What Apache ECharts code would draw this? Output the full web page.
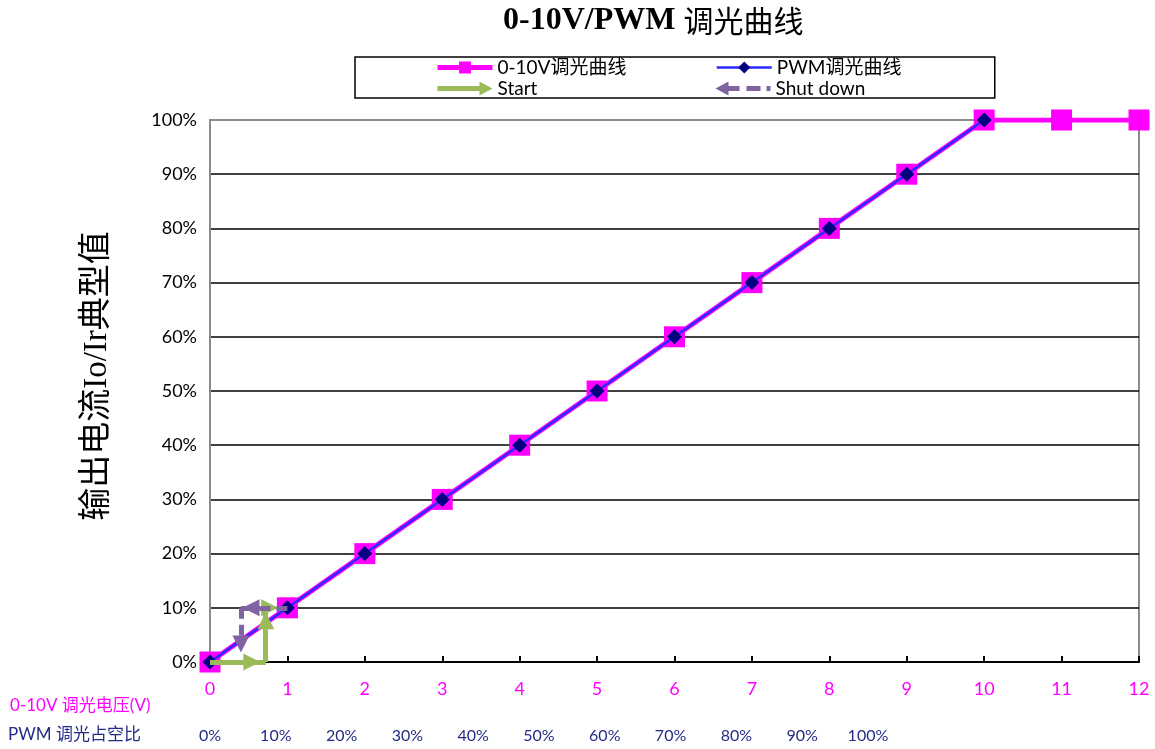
<!DOCTYPE html>
<html>
<head>
<meta charset="utf-8">
<script src="https://cdn.jsdelivr.net/npm/echarts@6/dist/echarts.min.js"></script>
<style>html,body{margin:0;padding:0;background:#fff}#c{width:1155px;height:749px}</style>
</head>
<body>
<div id="c"></div>
<script>
// ---- data ----
const voltX = [0,1,2,3,4,5,6,7,8,9,10,11,12];
const voltY = [0,10,20,30,40,50,60,70,80,90,100,100,100];
const pwmX = [0,1,2,3,4,5,6,7,8,9,10];
const pwmY = [0,10,20,30,40,50,60,70,80,90,100];
// arrow paths: each point pair is a segment; arrowed segments listed separately
const startPath = [[0,0],[0.54,0],[0.72,0],[0.72,7.6],[0.72,10],[0.77,10]];
const startPlain = [1, 3];
const shutPath = [[1,10],[0.53,10],[0.4,10],[0.4,3.3]];
const shutPlain = [1];
const yTicks = [0,10,20,30,40,50,60,70,80,90,100];
const pwmLabels = ['0%','10%','20%','30%','40%','50%','60%','70%','80%','90%','100%'];
const seriesNames = ['0-10V调光曲线','PWM调光曲线','Start','Shut down'];
const yName = '输出电流Io/Ir典型值';

const FONT = 'Lato, "Noto Sans CJK SC", sans-serif';
const MAG = '#FF00FF', NAVY = '#000080', BLUE = '#2a2aff', GREEN = '#9BBB59', PURPLE = '#8064A2';

function zip(xs, ys){ return xs.map((x,i)=>[x, ys[i]]); }
function segs(path, plain){
  const out = [];
  for (let i=0;i<path.length-1;i++){
    const noArrow = plain.includes(i);
    out.push([{coord: path[i], symbol: 'none'}, {coord: path[i+1], symbol: noArrow ? 'none' : 'triangle', symbolSize: 17}]);
  }
  return out;
}

const chart = echarts.init(document.getElementById('c'));
chart.setOption({
  animation: false,
  title: {
    text: '{a|0-10V/PWM }{b|调光曲线}', left: 498, top: 0,
    textStyle: {
      rich: {
        a: {fontFamily: '"Liberation Serif", serif', fontWeight: 'bold', fontSize: 32, color: '#000'},
        b: {fontFamily: '"Noto Sans CJK SC", sans-serif', fontWeight: 'normal', fontSize: 30, color: '#000'}
      }
    }
  },
  legend: {
    left: 355, top: 57, width: 560,
    padding: [1, 2, 0, 80],
    borderColor: '#000', borderWidth: 1.5,
    itemWidth: 55, itemHeight: 15, itemGap: 2,
    textStyle: {fontFamily: FONT, fontSize: 19, color: '#000', width: 216, lineHeight: 17},
    data: [
      {name: seriesNames[0], lineStyle: {width: 5}},
      {name: seriesNames[1], lineStyle: {width: 2.5}},
      {name: seriesNames[2], icon: 'path://M0,4.5L42,4.5L42,0L55,7L42,14L42,9.5L0,9.5Z', itemStyle: {color: GREEN}},
      {name: seriesNames[3], icon: 'path://M0,7L13,0L13,4.5L24,4.5L24,9.5L13,9.5L13,14Z M31,4.5L45,4.5L45,9.5L31,9.5Z M51,4.5L55,4.5L55,9.5L51,9.5Z', itemStyle: {color: PURPLE}}
    ]
  },
  grid: {left: 210, right: 16, top: 120, bottom: 87, show: true, borderColor: '#8c8c8c', borderWidth: 2},
  xAxis: [{
    type: 'value', min: 0, max: 12, interval: 1,
    axisLine: {lineStyle: {color: '#000', width: 2}},
    axisTick: {inside: true, length: 6, lineStyle: {color: '#000', width: 2}},
    splitLine: {show: false},
    axisLabel: {color: MAG, fontSize: 18, fontFamily: FONT, margin: 18}
  }, {
    type: 'value', min: 0, max: 141.2, interval: 10, position: 'bottom', offset: 60,
    axisLine: {show: false}, axisTick: {show: false}, splitLine: {show: false},
    axisLabel: {color: '#232C84', fontSize: 16, fontFamily: FONT, margin: 6, showMaxLabel: false,
      formatter: v => { const i = Math.round(v/10); return (i < pwmLabels.length) ? pwmLabels[i] : ''; }}
  }],
  yAxis: {
    type: 'value', min: 0, max: 100, interval: 10,
    axisLine: {show: true, lineStyle: {color: '#8c8c8c', width: 2}},
    axisTick: {show: false},
    axisLabel: {color: '#000', fontSize: 18, fontFamily: FONT, margin: 13, formatter: v => v + '%'},
    splitLine: {lineStyle: {color: yTicks.map((t,i)=> i === yTicks.length-1 ? '#8c8c8c' : '#000'), width: 1.5}}
  },
  series: [
    {
      name: seriesNames[0], type: 'line', data: zip(voltX, voltY),
      symbol: 'rect', symbolSize: 21, color: MAG,
      lineStyle: {color: MAG, width: 5}, itemStyle: {color: MAG}, z: 2
    },
    {
      name: seriesNames[1], type: 'line', data: zip(pwmX, pwmY),
      symbol: 'diamond', symbolSize: 15, color: BLUE,
      lineStyle: {color: BLUE, width: 2.5}, itemStyle: {color: NAVY}, z: 3
    },
    {
      name: seriesNames[2], type: 'line', data: [], color: GREEN, z: 4,
      markLine: {
        silent: true, symbol: ['none', 'triangle'], symbolSize: 17,
        label: {show: false},
        lineStyle: {color: GREEN, width: 5, type: 'solid'},
        data: segs(startPath, startPlain)
      }
    },
    {
      name: seriesNames[3], type: 'line', data: [], color: PURPLE, z: 5,
      markLine: {
        silent: true, symbol: ['none', 'triangle'], symbolSize: 17,
        label: {show: false},
        lineStyle: {color: PURPLE, width: 5, type: [11, 6]},
        data: segs(shutPath, shutPlain)
      }
    }
  ],
  graphic: [
    {type: 'text', x: 97, y: 376, rotation: Math.PI / 2,
      style: {text: yName, fill: '#000', font: '33px "Liberation Serif", "Noto Sans CJK SC", serif', align: 'center', verticalAlign: 'middle'}},
    {type: 'text', left: 10, top: 697, style: {text: '0-10V 调光电压(V)', fill: MAG, font: '17px ' + FONT}},
    {type: 'text', left: 8, top: 726, style: {text: 'PWM 调光占空比', fill: '#232C84', font: '17px ' + FONT}}
  ]
});
</script>
</body>
</html>
